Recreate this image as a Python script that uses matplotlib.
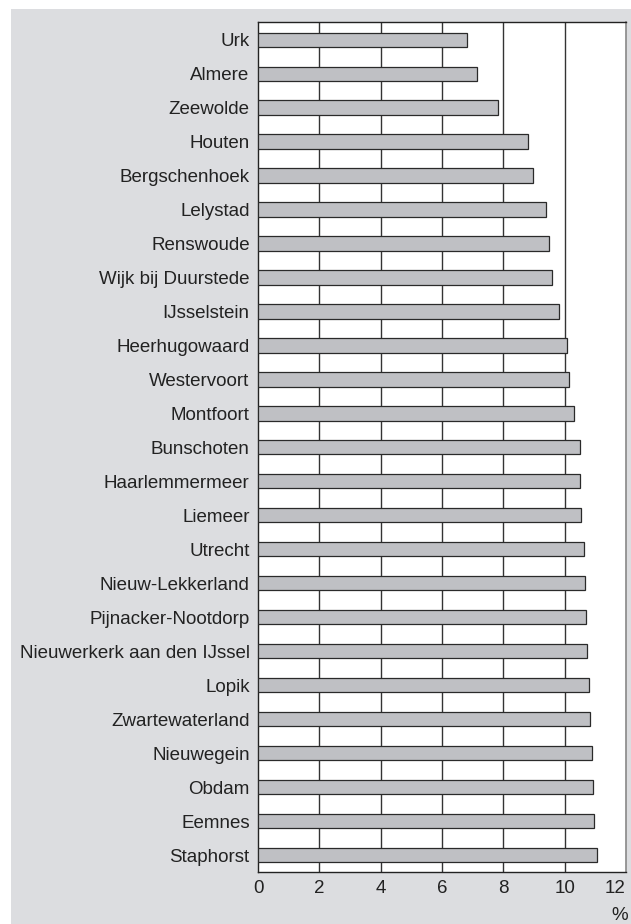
import matplotlib
matplotlib.use("Agg")
import matplotlib.pyplot as plt
from matplotlib.patches import Rectangle

# gemeenten, van boven naar beneden
gemeenten = [
    "Urk", "Almere", "Zeewolde", "Houten", "Bergschenhoek", "Lelystad",
    "Renswoude", "Wijk bij Duurstede", "IJsselstein", "Heerhugowaard",
    "Westervoort", "Montfoort", "Bunschoten", "Haarlemmermeer", "Liemeer",
    "Utrecht", "Nieuw-Lekkerland", "Pijnacker-Nootdorp",
    "Nieuwerkerk aan den IJssel", "Lopik", "Zwartewaterland", "Nieuwegein",
    "Obdam", "Eemnes", "Staphorst",
]
percentages = [
    6.82, 7.15, 7.84, 8.80, 8.96, 9.38,
    9.50, 9.58, 9.83, 10.06,
    10.13, 10.31, 10.49, 10.51, 10.53,
    10.64, 10.67, 10.70,
    10.72, 10.79, 10.83, 10.90,
    10.92, 10.96, 11.05,
]
x_ticks = [0, 2, 4, 6, 8, 10, 12]

plt.rcParams["font.family"] = ["Liberation Sans", "DejaVu Sans"]

fig = plt.figure(figsize=(6.31, 9.24), dpi=100)
fig.patch.set_facecolor("white")
# grijs kader achter de grafiek
fig.patches.append(Rectangle((11 / 631, 0), 1, 1 - 9 / 924, transform=fig.transFigure,
                             facecolor="#dcdde0", edgecolor="none", zorder=-10))

ax = fig.add_axes([258 / 631, 1 - 872 / 924, (626 - 258) / 631, (872 - 22) / 924])
ax.set_facecolor("white")

pos = list(range(len(gemeenten)))
ax.barh(pos, percentages, height=0.42, color="#bfc0c4", edgecolor="#2a2a2a",
        linewidth=0.9, zorder=3)

ax.set_xlim(0, 12)
ax.set_ylim(len(gemeenten) - 0.5, -0.52)
ax.set_xticks(x_ticks)
ax.set_xticklabels([str(t) for t in x_ticks])
ax.set_yticks(pos)
ax.set_yticklabels(gemeenten)
ax.tick_params(axis="both", length=0, labelsize=13.5, colors="#222222")
ax.tick_params(axis="y", pad=6)
ax.tick_params(axis="x", pad=6)
# "12" staat net tegen de rand
ax.get_xticklabels()[-1].set_horizontalalignment("right")
ax.get_xticklabels()[-1].set_x(12.0)

for t in x_ticks[1:-1]:
    ax.axvline(t, color="#333333", linewidth=1.0, zorder=1)

for side in ["left", "top", "bottom"]:
    ax.spines[side].set_color("#222222")
    ax.spines[side].set_linewidth(1.0)
ax.spines["right"].set_color("#888888")
ax.spines["right"].set_linewidth(1.2)

fig.text(620 / 631, 1 - 916 / 924, "%", ha="center", va="center", fontsize=13.5,
         color="#222222")

fig.savefig("out.png", dpi=100, facecolor=fig.get_facecolor())
